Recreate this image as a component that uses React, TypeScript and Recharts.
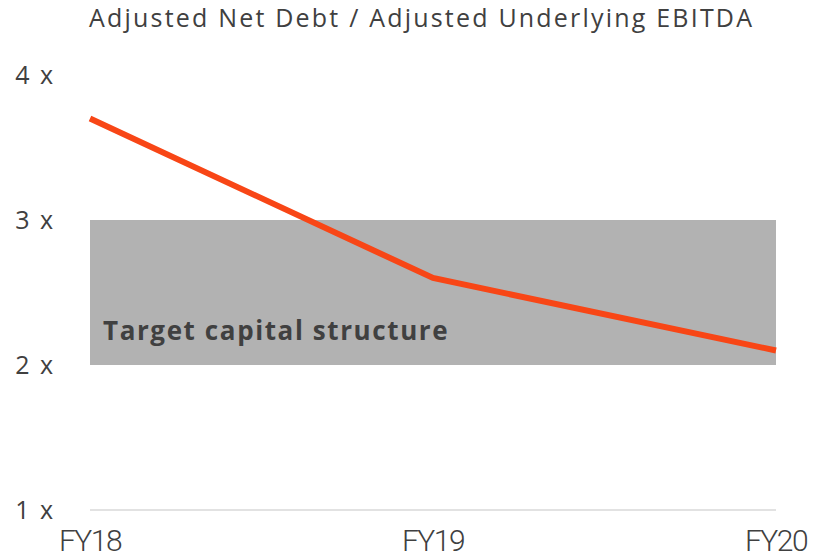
import { LineChart, Line, XAxis, YAxis, ReferenceArea } from "recharts";

const years = ["FY18", "FY19", "FY20"];
const ratio = [3.7, 2.6, 2.1];
const yTicks = [1, 2, 3, 4];
const targetLow = 2;
const targetHigh = 3;

const data = years.map((year, i) => ({ year, ratio: ratio[i] }));

const bandLabel = (props: any) => {
  const vb = props.viewBox;
  return (
    <text
      x={vb.x + 13}
      y={vb.y + vb.height - 25}
      fill="#404040"
      fontFamily="Open Sans"
      fontWeight={700}
      fontSize={26}
      letterSpacing={1.6}
    >
      Target capital structure
    </text>
  );
};

export default function App() {
  return (
    <div style={{ position: "absolute", left: 0, top: 0, width: 814, height: 560, background: "#fff" }}>
      <div
        style={{
          position: "absolute",
          left: 89,
          top: 0,
          fontFamily: "Open Sans",
          fontSize: 25,
          letterSpacing: 2.2,
          color: "#404040",
          whiteSpace: "nowrap",
        }}
      >
        Adjusted Net Debt / Adjusted Underlying EBITDA
      </div>
      <LineChart
        width={814}
        height={560}
        data={data}
        margin={{ top: 75, right: 38, bottom: 0, left: 0 }}
      >
        <XAxis
          dataKey="year"
          height={50}
          axisLine={{ stroke: "#e2e2e2", strokeWidth: 2 }}
          tickLine={false}
          tickSize={0}
          tickMargin={20}
          tick={{ fill: "#404040", fontSize: 30, fontWeight: 300, fontFamily: "Roboto", letterSpacing: -1.5 }}
        />
        <YAxis
          width={90}
          domain={[1, 4]}
          ticks={yTicks}
          axisLine={false}
          tickLine={false}
          tickSize={0}
          tickMargin={35}
          tickFormatter={(v: number) => `${v} x`}
          tick={{ fill: "#404040", fontSize: 25, fontFamily: "Open Sans", letterSpacing: 2 }}
        />
        <ReferenceArea
          y1={targetLow}
          y2={targetHigh}
          fill="#b2b2b2"
          fillOpacity={1}
          stroke="none"
          label={bandLabel}
        />
        <Line
          dataKey="ratio"
          stroke="#f84616"
          strokeWidth={6}
          dot={false}
          isAnimationActive={false}
        />
      </LineChart>
    </div>
  );
}
